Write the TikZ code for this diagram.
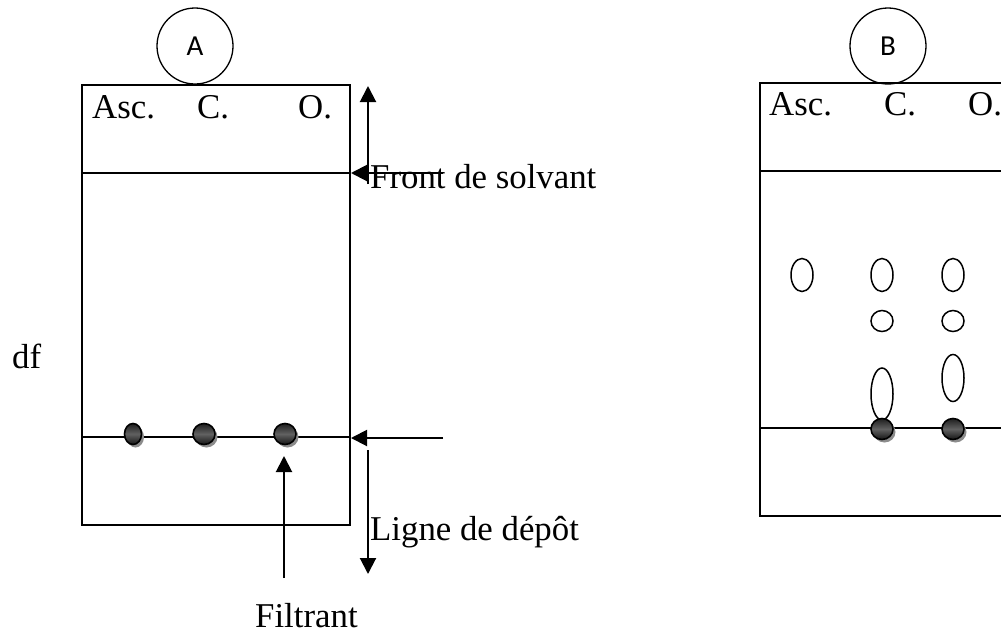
\documentclass[tikz,border=0pt]{standalone}
\usepackage{fontspec}
\setmainfont{Liberation Serif}
\newfontfamily\lblfont{Carlito}
\usetikzlibrary{arrows.meta,shapes.geometric,shadows}
\begin{document}
\begin{tikzpicture}[x=1pt,y=-1pt,
  frame/.style={line width=2pt},
  arr/.style={line width=2pt,-{Triangle[length=16pt,width=16pt]}},
  txt/.style={font=\fontsize{34.8}{40}\selectfont, anchor=base west, inner sep=0pt},
  badge/.style={circle, draw, line width=1.3pt, minimum size=76pt, inner sep=0pt, font=\lblfont\fontsize{29}{32}\selectfont},
  ospot/.style={ellipse, draw, line width=1.5pt, inner sep=0pt, minimum width=22pt},
  dspot/.style={ellipse, draw, line width=1.6pt, inner sep=0pt, minimum height=21pt,
     top color=black!88, bottom color=black!92, middle color=black!62,
     drop shadow={shadow xshift=2.5pt, shadow yshift=-3pt, fill=black!45, opacity=1}}
]
\useasboundingbox (0,0) rectangle (1001,633);
\clip (0,0) rectangle (1001,633);

% ---------- Panel A ----------
\draw[frame] (82,85) rectangle (350,525);
\draw[frame] (82,173) -- (350,173);
\draw[frame] (82,437) -- (350,437);
\node[badge] (cA) at (195,46) {A};
\node[txt] (ascA) at (92,118) {Asc.};
\node[txt] (cAl) at (197,118) {C.};
\node[txt] (oA) at (298,118) {O.};
\node[dspot, minimum width=17pt] (sA1) at (133,434) {};
\node[dspot, minimum width=22pt] (sA2) at (204,434) {};
\node[dspot, minimum width=22pt] (sA3) at (285,434) {};

\coordinate (upS) at (368,184);
\coordinate (upE) at (368,86);
\coordinate (fsS) at (443,173);
\coordinate (fsE) at (351,173);
\coordinate (ldS) at (443,438);
\coordinate (ldE) at (351,438);
\coordinate (dnS) at (368,450);
\coordinate (dnE) at (368,574);
\coordinate (fiS) at (284,578);
\coordinate (fiE) at (284,456);
\draw[arr] (upS) -- (upE);
\draw[arr] (fsS) -- (fsE);
\draw[arr] (ldS) -- (ldE);
\draw[arr] (dnS) -- (dnE);
\draw[arr] (fiS) -- (fiE);

\node[txt] (front) at (370,188) {Front de solvant};
\node[txt] (ligne) at (370,540) {Ligne de dépôt};
\node[txt] (filt) at (255,627) {Filtrant};
\node[txt] (df) at (12,368) {df};

% ---------- Panel B ----------
\draw[frame] (760,83) rectangle (1012,516);
\draw[frame] (760,171) -- (1012,171);
\draw[frame] (760,428) -- (1012,428);
\node[badge] (cB) at (888,46) {B};
\node[txt] (ascB) at (769,115) {Asc.};
\node[txt] (cBl) at (884,115) {C.};
\node[txt] (oB) at (968,115) {O.};

\node[ospot, minimum height=33pt] (b1) at (802,275) {};
\node[ospot, minimum height=33pt] (b2) at (882,275) {};
\node[ospot, minimum height=33pt] (b3) at (953,275) {};
\node[ospot, minimum height=21pt] (b4) at (882,321) {};
\node[ospot, minimum height=21pt] (b5) at (953,321) {};
\node[ospot, minimum height=52pt] (b6) at (882,394) {};
\node[ospot, minimum height=47pt] (b7) at (953,378) {};
\node[dspot, minimum width=22pt] (sB1) at (882,429) {};
\node[dspot, minimum width=22pt] (sB2) at (953,429) {};
\end{tikzpicture}
\end{document}
